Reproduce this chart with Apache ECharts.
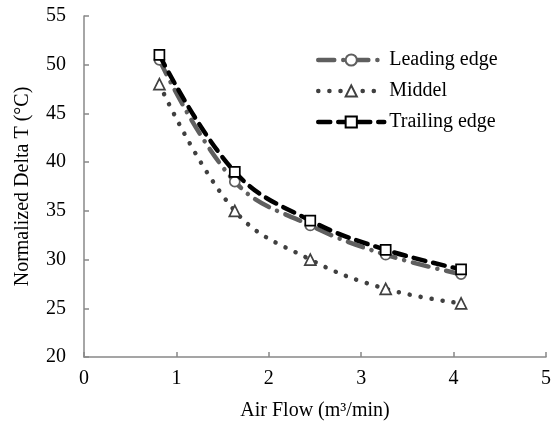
<!DOCTYPE html>
<html>
<head>
<meta charset="utf-8">
<script src="https://cdn.jsdelivr.net/npm/echarts@6/dist/echarts.min.js"></script>
<style>html,body{margin:0;padding:0;background:#fff}#c{width:555px;height:426px}</style>
</head>
<body>
<div id="c"></div>
<script>
const airFlow = [0.816, 1.632, 2.449, 3.265, 4.081];
const leadingEdge = [50.5, 38.0, 33.5, 30.5, 28.5];
const middel = [48.0, 35.0, 30.0, 27.0, 25.5];
const trailingEdge = [51.0, 39.0, 34.0, 31.0, 29.0];
const seriesNames = ['Leading edge', 'Middel', 'Trailing edge'];

const pairs = (ys) => airFlow.map((x, i) => [x, ys[i]]);
const font = 'Liberation Serif, Times New Roman, serif';
const styles = [
  { color: '#5f5f5f', symbol: 'circle', size: 10, dash: [16, 9, 0.1, 9] },
  { color: '#404040', symbol: 'triangle', size: 11, dash: [0.1, 11] },
  { color: '#000000', symbol: 'rect', size: 10, dash: [12, 8] }
];
const chart = echarts.init(document.getElementById('c'));
chart.setOption({
  animation: false,
  backgroundColor: '#fff',
  grid: { left: 84, right: 9, top: 16, bottom: 68 },
  legend: {
    left: 311, top: 45, orient: 'vertical',
    itemWidth: 66, itemHeight: 14, itemGap: 11,
    textStyle: { fontFamily: font, fontSize: 20, color: '#000' },
    data: seriesNames.map((n, i) => ({
      name: n,
      lineStyle: { color: styles[i].color, width: 4.5, type: styles[i].dash, cap: 'round' }
    }))
  },
  xAxis: {
    type: 'value', min: 0, max: 5, interval: 1,
    name: 'Air Flow (m³/min)', nameLocation: 'middle', nameGap: 44,
    nameTextStyle: { fontFamily: font, fontSize: 20, color: '#000' },
    axisLine: { show: true, lineStyle: { color: '#888', width: 1.5 } },
    axisTick: { show: true, inside: true, length: 5, lineStyle: { color: '#888', width: 1.5 } },
    axisLabel: { fontFamily: font, fontSize: 20, color: '#000', margin: 12 },
    splitLine: { show: false }
  },
  yAxis: {
    type: 'value', min: 20, max: 55, interval: 5,
    name: 'Normalized Delta T (°C)', nameLocation: 'middle', nameGap: 51,
    nameTextStyle: { fontFamily: font, fontSize: 20, color: '#000' },
    axisLine: { show: true, lineStyle: { color: '#888', width: 1.5 } },
    axisTick: { show: true, inside: true, length: 5, lineStyle: { color: '#888', width: 1.5 } },
    axisLabel: { fontFamily: font, fontSize: 20, color: '#000', margin: 18 },
    splitLine: { show: false }
  },
  series: [leadingEdge, middel, trailingEdge].map((ys, i) => ({
    name: seriesNames[i], type: 'line', smooth: 0.4, data: pairs(ys),
    symbol: styles[i].symbol, symbolSize: styles[i].size,
    itemStyle: { color: '#fff', borderColor: styles[i].color, borderWidth: 1.7 },
    lineStyle: { color: styles[i].color, width: 4.5, type: styles[i].dash, cap: 'round' },
    z: 2 + i
  }))
});
</script>
</body>
</html>
